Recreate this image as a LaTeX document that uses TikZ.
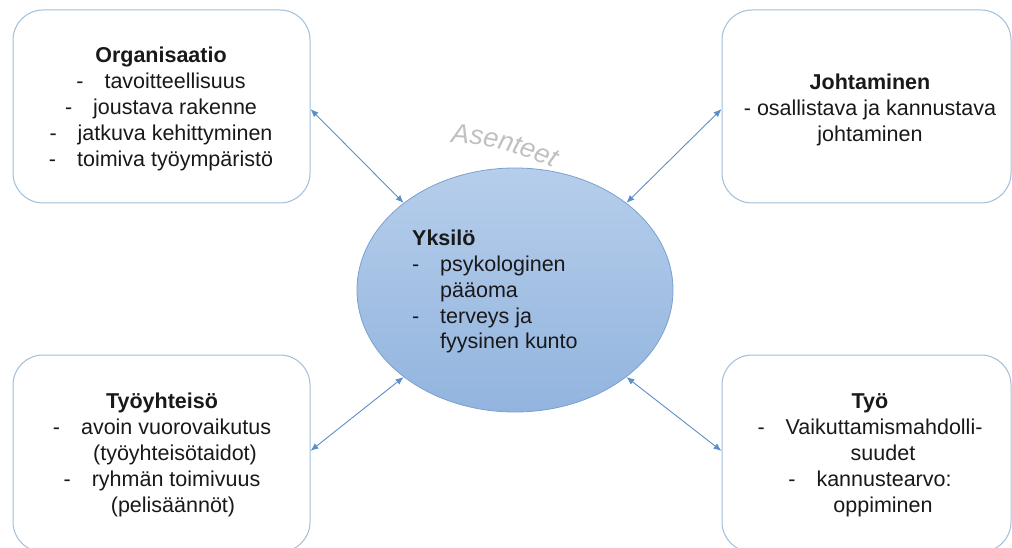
\documentclass[tikz,border=0pt]{standalone}
\usepackage{fontspec}
\setmainfont{Liberation Sans}
\usetikzlibrary{arrows.meta,decorations.text,shapes.geometric}

\definecolor{boxline}{RGB}{160,190,218}
\definecolor{arrowblue}{RGB}{91,143,200}
\definecolor{elltop}{RGB}{182,206,235}
\definecolor{ellbot}{RGB}{146,180,222}
\definecolor{ellline}{RGB}{122,160,208}
\definecolor{asentgray}{RGB}{192,192,192}
\definecolor{txt}{RGB}{25,25,25}

\newcommand\asentfont{\fontsize{27}{27}\selectfont\itshape}
\newcommand\dsh{-\hspace{21pt}}

\begin{document}
\begin{tikzpicture}[x=1pt,y=1pt,
  topic/.style={draw=boxline, line width=1pt, rounded corners=30pt, fill=white},
  person/.style={ellipse, draw=ellline, line width=0.8pt,
    top color=elltop, bottom color=ellbot, minimum width=316pt, minimum height=244pt},
  label/.style={inner sep=0pt, text=txt, font=\fontsize{21.5}{26}\selectfont},
  link/.style={arrowblue, line width=0.9pt,
    {Latex[length=8pt,width=6.5pt]}-{Latex[length=8pt,width=6.5pt]}}]

\useasboundingbox (0,0) rectangle (1012,-548);

% four surrounding areas
\node[topic, minimum width=297pt, minimum height=193pt] (org) at (161.5,-106.5) {};
\node[topic, minimum width=289pt, minimum height=193pt] (joh) at (866.5,-106.5) {};
\node[topic, minimum width=297pt, minimum height=197pt] (yht) at (161.5,-453.5) {};
\node[topic, minimum width=289pt, minimum height=197pt] (tyo) at (866.5,-453.5) {};

% the individual in the middle
\node[person] (yk) at (515,-290) {};

% texts of the areas
\node[label, anchor=base] (orgtxt) at (161,-63) {\begin{tabular}[t]{@{}c@{}}
  \textbf{Organisaatio}\\
  \dsh tavoitteellisuus\\
  \dsh joustava rakenne\\
  \dsh jatkuva kehittyminen\\
  \dsh toimiva työympäristö
\end{tabular}};

\node[label, anchor=base] (johtxt) at (870,-90) {\begin{tabular}[t]{@{}c@{}}
  \textbf{Johtaminen}\\
  - osallistava ja kannustava\\
  johtaminen
\end{tabular}};

\node[label, anchor=base] (yhttxt) at (162,-408) {\begin{tabular}[t]{@{}c@{}}
  \textbf{Työyhteisö}\\
  \dsh avoin vuorovaikutus\\
  \hspace*{26pt}(työyhteisötaidot)\\
  \dsh ryhmän toimivuus\\
  \hspace*{22pt}(pelisäännöt)
\end{tabular}};

\node[label, anchor=base] (tyotxt) at (870,-408) {\begin{tabular}[t]{@{}c@{}}
  \textbf{Työ}\\
  \dsh Vaikuttamismahdolli-\\
  \hspace*{26pt}suudet\\
  \dsh kannustearvo:\\
  \hspace*{26pt}oppiminen
\end{tabular}};

\node[label, anchor=base west] (yktxt) at (412,-245) {\begin{tabular}[t]{@{}p{28pt}@{}l@{}}
  \multicolumn{2}{@{}l@{}}{\textbf{Yksilö}}\\
  - & psykologinen\\
    & pääoma\\
  - & terveys ja\\
    & fyysinen kunto
\end{tabular}};

% attitudes, written along an arc above the ellipse
\path[decorate, decoration={text along path, text color=asentgray,
    text={|\asentfont|Asenteet}, text align=left}]
  (450.8,-142.2) arc[start angle=87.6, end angle=50, radius=258];

% two-way links
\draw[link] (org.-1.5) -- (yk.142);
\draw[link] (joh.181.5) -- (yk.38.5);
\draw[link] (yht.1.4) -- (yk.218.5);
\draw[link] (tyo.179.4) -- (yk.322);

\end{tikzpicture}
\end{document}
